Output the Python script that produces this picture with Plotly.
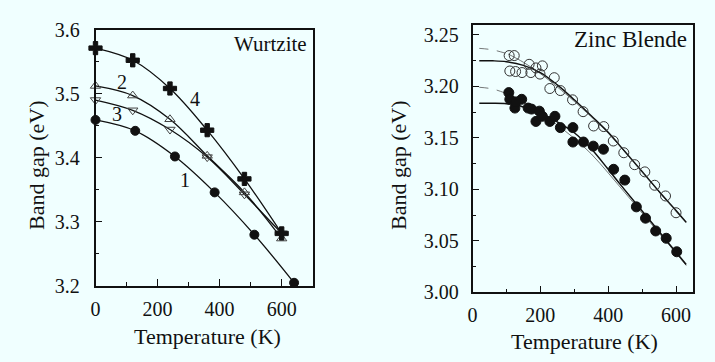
import plotly.graph_objects as go

# ---------------- Wurtzite (left panel) ----------------
w1_T = [0, 128, 256, 384, 512, 640]
w1_E = [3.459, 3.442, 3.402, 3.346, 3.280, 3.205]
w2_T = [0, 120, 240, 360, 480, 600]
w2_E = [3.512, 3.497, 3.460, 3.403, 3.346, 3.274]
w3_T = [0, 120, 240, 360, 480, 600]
w3_E = [3.490, 3.474, 3.444, 3.401, 3.343, 3.282]
w4_T = [0, 120, 240, 360, 480, 600]
w4_E = [3.571, 3.552, 3.508, 3.443, 3.367, 3.282]

# ---------------- Zinc Blende (right panel) ----------------
zo_T = [108, 123, 110, 127, 146, 167, 172, 187, 199, 206, 228, 241, 259, 295, 326,
        357, 387, 415, 446, 478, 508, 537, 569, 600]
zo_E = [3.230, 3.230, 3.215, 3.2145, 3.2135, 3.2215, 3.2135, 3.218, 3.212, 3.220,
        3.198, 3.2085, 3.196, 3.187, 3.1755, 3.1616, 3.161, 3.147, 3.1356, 3.124,
        3.117, 3.104, 3.0936, 3.0773]
zf_T = [107, 110, 125, 145, 128, 164, 174, 187, 197, 206, 228, 243, 259, 296, 296,
        327, 356, 386, 416, 449, 483, 510, 540, 571, 602]
zf_E = [3.194, 3.1875, 3.179, 3.1875, 3.185, 3.179, 3.178, 3.166, 3.176, 3.171,
        3.166, 3.171, 3.160, 3.160, 3.146, 3.146, 3.142, 3.139, 3.1195, 3.109,
        3.083, 3.072, 3.0596, 3.0525, 3.0394]

# fitted curves
fo_T = [20, 60, 100, 150, 200, 250, 300, 350, 400, 450, 500, 550, 600, 630]
fo_E = [3.225, 3.2249, 3.2240, 3.2205, 3.2135, 3.2015, 3.187, 3.1715, 3.1555,
        3.1365, 3.1175, 3.098, 3.0795, 3.068]
fo_thin_lo_T = [20, 60, 105]
fo_thin_lo_E = [3.237, 3.2355, 3.2315]
fo_thin_T = [105, 150, 200, 250, 300, 400, 500, 600, 630]
fo_thin_E = [3.2315, 3.2235, 3.2125, 3.1995, 3.1855, 3.1545, 3.1165, 3.0785, 3.0675]

ff_T = [20, 60, 100, 130, 150, 200, 250, 300, 350, 400, 450, 500, 550, 600, 630]
ff_E = [3.1836, 3.1836, 3.1833, 3.1822, 3.180, 3.174, 3.1655, 3.155, 3.1395,
        3.1195, 3.099, 3.079, 3.059, 3.039, 3.027]
ff_thin_lo_T = [20, 60, 105]
ff_thin_lo_E = [3.1992, 3.1975, 3.1925]
ff_thin_T = [105, 150, 200, 250, 300, 350, 400, 450, 500, 550, 600, 630]
ff_thin_E = [3.1925, 3.185, 3.1745, 3.1625, 3.1495, 3.1345, 3.116, 3.0965, 3.077,
             3.0575, 3.038, 3.026]

x_ticks = [0, 200, 400, 600]
yl_ticks = [3.2, 3.3, 3.4, 3.5, 3.6]
yr_ticks = [3.00, 3.05, 3.10, 3.15, 3.20, 3.25]

FONT = "Times New Roman, Liberation Serif, DejaVu Serif, serif"
BG = "#F0FFFF"
INK = "#111111"

fig = go.Figure()

def curve(T, E, xa, ya, width=1.3, color=INK, dash="solid"):
    fig.add_trace(go.Scatter(x=T, y=E, mode="lines", xaxis=xa, yaxis=ya,
                             line=dict(color=color, width=width, shape="spline",
                                       smoothing=1.0, dash=dash),
                             hoverinfo="skip", showlegend=False))

def pts(T, E, xa, ya, symbol, size, color=INK, lw=1.0):
    fig.add_trace(go.Scatter(x=T, y=E, mode="markers", xaxis=xa, yaxis=ya,
                             marker=dict(symbol=symbol, size=size, color=color,
                                         line=dict(color=color, width=lw)),
                             cliponaxis=False, showlegend=False))

# left panel
for T, E in [(w1_T, w1_E), (w2_T, w2_E), (w3_T, w3_E), (w4_T, w4_E)]:
    curve(T, E, "x", "y")
pts(w1_T, w1_E, "x", "y", "circle", 9)
pts(w2_T, w2_E, "x", "y", "triangle-up-open", 9, "#444", 1)
pts(w3_T, w3_E, "x", "y", "triangle-down-open", 9, "#444", 1)
pts(w4_T, w4_E, "x", "y", "cross", 11)

# right panel
curve(fo_thin_lo_T, fo_thin_lo_E, "x2", "y2", 0.8, "#555", "dash")
curve(fo_thin_T, fo_thin_E, "x2", "y2", 0.8, "#555")
curve(ff_thin_lo_T, ff_thin_lo_E, "x2", "y2", 0.8, "#555", "dash")
curve(ff_thin_T, ff_thin_E, "x2", "y2", 0.8, "#555")
curve(fo_T, fo_E, "x2", "y2", 1.4)
curve(ff_T, ff_E, "x2", "y2", 1.5)
pts(zo_T, zo_E, "x2", "y2", "circle-open", 10, "#333", 1)
pts(zf_T, zf_E, "x2", "y2", "circle", 10)

W, H = 715, 362
def px(x):
    return x / W
def py(y):
    return 1 - y / H

axis_common = dict(showline=True, linecolor=INK, linewidth=1.5, mirror=True,
                   ticks="inside", tickcolor=INK, tickwidth=1.2, ticklen=7,
                   showgrid=False, zeroline=False,
                   tickfont=dict(family=FONT, size=20, color=INK))

fig.update_layout(
    width=W, height=H, margin=dict(l=0, r=0, t=0, b=0, autoexpand=False),
    paper_bgcolor=BG, plot_bgcolor=BG, showlegend=False,
    font=dict(family=FONT, color=INK),
    xaxis=dict(domain=[px(95.5), px(312.7)], range=[0, 700], anchor="y",
               tickvals=x_ticks, ticklabelstandoff=4,
               minor=dict(tickvals=[100, 300, 500], ticks="inside", ticklen=4,
                          tickcolor=INK, tickwidth=1.2),
               **axis_common),
    yaxis=dict(domain=[py(286), py(29.5)], range=[3.2, 3.6], anchor="x",
               tickvals=yl_ticks, tickformat=".1f", ticklabelstandoff=10,
               minor=dict(tickvals=[3.25, 3.35, 3.45, 3.55], ticks="inside",
                          ticklen=4, tickcolor=INK, tickwidth=1.2),
               **axis_common),
    xaxis2=dict(domain=[px(472.5), px(693)], range=[0, 650], anchor="y2",
                tickvals=x_ticks, ticklabelstandoff=4,
                minor=dict(tickvals=[100, 300, 500], ticks="inside", ticklen=4,
                           tickcolor=INK, tickwidth=1.2),
                **axis_common),
    yaxis2=dict(domain=[py(292.3), py(25)], range=[3.0, 3.2597], anchor="x2",
                tickvals=yr_ticks, tickformat=".2f", ticklabelstandoff=8,
                minor=dict(tickvals=[3.025, 3.075, 3.125, 3.175, 3.225],
                           ticks="inside", ticklen=4, tickcolor=INK, tickwidth=1.2),
                **axis_common),
)

ann = []
tf = dict(family=FONT, color=INK)
C = dict(xref="paper", yref="paper", showarrow=False, xanchor="center", yanchor="middle")
# axis titles
ann.append(dict(text="Temperature (K)", x=px(207), y=py(336), font=dict(size=22, **tf), **C))
ann.append(dict(text="Temperature (K)", x=px(584), y=py(341), font=dict(size=22, **tf), **C))
ann.append(dict(text="Band gap (eV)", x=px(36), y=py(165), textangle=-90,
                font=dict(size=22, **tf), **C))
ann.append(dict(text="Band gap (eV)", x=px(398), y=py(165), textangle=-90,
                font=dict(size=22, **tf), **C))
# panel labels
ann.append(dict(text="Wurtzite", x=px(309), y=py(44), xref="paper", yref="paper",
                xanchor="right", yanchor="middle", showarrow=False,
                font=dict(size=21, **tf)))
ann.append(dict(text="Zinc Blende", x=px(689), y=py(40), xref="paper", yref="paper",
                xanchor="right", yanchor="middle", showarrow=False,
                font=dict(size=23, **tf)))
# curve numbers
for lab, T, E in [("1", 288, 3.365), ("2", 84, 3.5186), ("3", 68, 3.469), ("4", 321, 3.491)]:
    ann.append(dict(text=lab, x=T, y=E, xref="x", yref="y", showarrow=False,
                    xanchor="center", yanchor="middle", font=dict(size=20, **tf)))
fig.update_layout(annotations=ann)

fig.write_html("out.html")
